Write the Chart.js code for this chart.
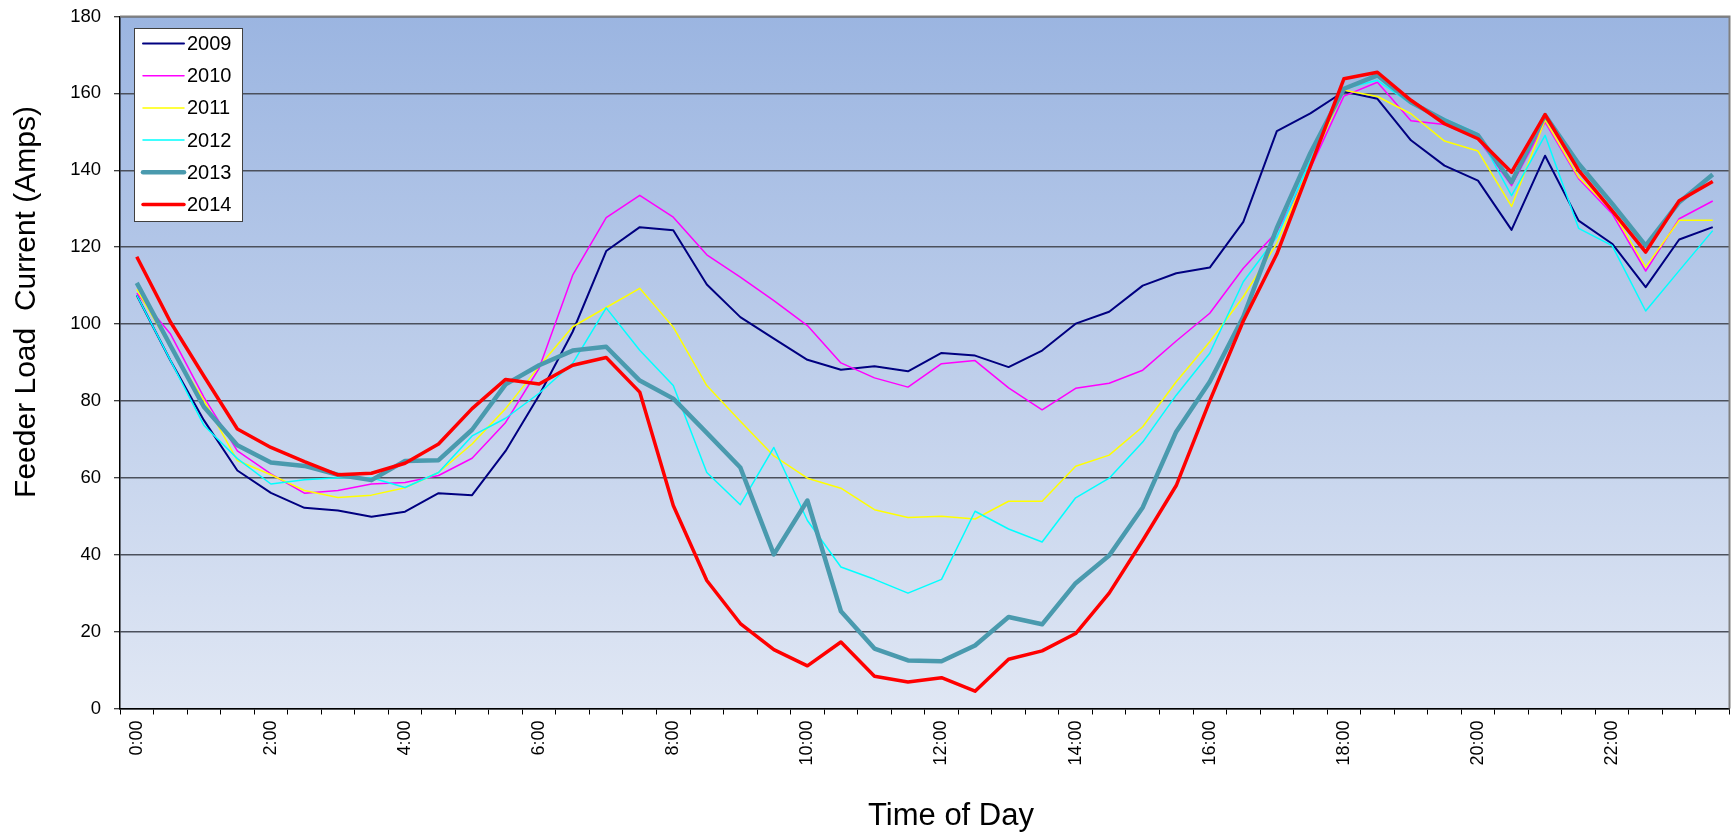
<!DOCTYPE html>
<html>
<head>
<meta charset="utf-8">
<title>Feeder Load Current</title>
<script src="https://cdn.jsdelivr.net/npm/chart.js@4.4.1/dist/chart.umd.min.js"></script>
<style>
  html, body { margin: 0; padding: 0; background: #fff; }
  #wrap { width: 1735px; height: 832px; }
</style>
</head>
<body>
<div id="wrap"><canvas id="feeder" width="1735" height="832"></canvas></div>
<script>
// half-hour categories
const timeLabels = [
  '0:00','0:30','1:00','1:30','2:00','2:30','3:00','3:30','4:00','4:30','5:00','5:30',
  '6:00','6:30','7:00','7:30','8:00','8:30','9:00','9:30','10:00','10:30','11:00','11:30',
  '12:00','12:30','13:00','13:30','14:00','14:30','15:00','15:30','16:00','16:30','17:00','17:30',
  '18:00','18:30','19:00','19:30','20:00','20:30','21:00','21:30','22:00','22:30','23:00','23:30'
];
// labels actually printed under the axis
const shownTicks = ['0:00','2:00','4:00','6:00','8:00','10:00','12:00','14:00','16:00','18:00','20:00','22:00'];
const yTicks = [0, 20, 40, 60, 80, 100, 120, 140, 160, 180];

const load2009 = [107.5, 90.6, 75.0, 61.9, 56.1, 52.2, 51.5, 49.9, 51.2, 56.0, 55.5, 67.0,
  81.5, 98.0, 119.0, 125.2, 124.4, 110.3, 101.8, 96.2, 90.7, 88.1, 89.0, 87.7,
  92.5, 91.8, 88.8, 93.1, 100.1, 103.2, 110.0, 113.2, 114.7, 126.6, 150.2, 154.8,
  160.5, 158.6, 147.8, 141.2, 137.3, 124.5, 143.8, 126.9, 120.9, 109.6, 122.0, 125.2];
const load2010 = [108.0, 97.5, 81.0, 67.0, 61.0, 56.0, 56.7, 58.4, 58.8, 60.6, 65.1, 74.4,
  88.5, 112.7, 127.7, 133.5, 127.8, 118.0, 112.2, 106.1, 99.6, 89.9, 86.0, 83.6,
  89.7, 90.5, 83.4, 77.7, 83.3, 84.6, 88.0, 95.6, 102.8, 114.5, 124.0, 140.5,
  159.3, 162.9, 152.9, 151.9, 148.2, 136.0, 152.5, 137.8, 128.7, 113.8, 127.4, 132.0];
const load2011 = [109.0, 94.0, 80.2, 64.5, 60.8, 56.7, 54.9, 55.5, 57.4, 61.4, 68.8, 78.0,
  89.0, 99.3, 104.3, 109.3, 99.2, 84.0, 74.7, 65.7, 59.9, 57.3, 51.7, 49.7,
  50.0, 49.3, 53.9, 53.9, 63.0, 65.9, 73.3, 85.0, 95.4, 107.1, 121.0, 141.5,
  160.8, 159.2, 154.7, 147.6, 145.0, 130.6, 153.1, 138.2, 129.5, 114.8, 127.0, 127.0];
const load2012 = [107.5, 90.6, 73.7, 65.0, 58.4, 59.5, 60.0, 60.0, 57.5, 61.4, 70.9, 75.5,
  82.0, 89.8, 104.2, 93.2, 84.0, 61.4, 53.0, 67.9, 48.9, 36.8, 33.6, 30.0,
  33.6, 51.3, 46.7, 43.3, 54.8, 59.9, 69.3, 81.5, 92.4, 111.0, 122.7, 142.5,
  161.2, 163.4, 157.3, 153.4, 149.5, 133.4, 149.1, 124.9, 120.4, 103.4, 113.9, 124.3];
const load2013 = [110.7, 94.5, 78.5, 68.5, 64.0, 63.1, 60.8, 59.4, 64.4, 64.6, 72.5, 84.3,
  89.3, 93.1, 94.1, 85.3, 80.6, 71.7, 62.7, 40.1, 54.1, 25.3, 15.6, 12.5,
  12.3, 16.4, 23.8, 21.9, 32.6, 39.8, 52.3, 72.0, 85.0, 101.9, 125.0, 144.5,
  161.2, 164.7, 157.7, 153.0, 149.1, 136.9, 154.3, 141.7, 131.3, 120.4, 131.7, 138.9];
const load2014 = [117.5, 100.6, 86.5, 72.7, 67.9, 64.2, 60.8, 61.2, 63.8, 68.8, 78.0, 85.6,
  84.4, 89.3, 91.3, 82.3, 52.8, 33.3, 22.1, 15.3, 11.1, 17.3, 8.4, 6.9,
  8.0, 4.5, 12.8, 15.0, 19.5, 30.0, 43.7, 58.0, 80.0, 100.8, 118.2, 141.0,
  163.8, 165.5, 158.2, 152.1, 148.2, 139.5, 154.5, 140.0, 129.5, 118.7, 132.1, 137.1];

const FONT = '"Liberation Sans", Arial, sans-serif';

// plot background gradient + gray frame
const plotBackground = {
  id: 'plotBackground',
  beforeDraw(chart) {
    const { ctx, chartArea: a } = chart;
    const g = ctx.createLinearGradient(0, a.top, 0, a.bottom);
    g.addColorStop(0, '#9bb5e1');
    g.addColorStop(1, '#e0e7f4');
    ctx.save();
    ctx.fillStyle = g;
    ctx.fillRect(a.left, a.top, a.right - a.left, a.bottom - a.top);
    ctx.restore();
  },
  afterDatasetsDraw(chart) {
    const { ctx, chartArea: a } = chart;
    ctx.save();
    ctx.strokeStyle = '#808080';
    ctx.lineWidth = 2;
    ctx.beginPath();
    ctx.moveTo(a.left, a.top);
    ctx.lineTo(a.right, a.top);
    ctx.lineTo(a.right, a.bottom);
    ctx.stroke();
    ctx.restore();
  }
};

// boxed legend inside the plot + axis titles
const boxLegend = {
  id: 'boxLegend',
  afterDraw(chart) {
    const ctx = chart.ctx;
    ctx.save();
    ctx.fillStyle = '#ffffff';
    ctx.fillRect(134, 28, 108, 193);
    ctx.strokeStyle = '#404040';
    ctx.lineWidth = 1;
    ctx.strokeRect(134.5, 28.5, 108, 193);
    ctx.font = '20px ' + FONT;
    ctx.textBaseline = 'middle';
    ctx.textAlign = 'left';
    chart.data.datasets.forEach((ds, k) => {
      const y = 43.5 + k * 32.2;
      ctx.strokeStyle = ds.borderColor;
      ctx.lineWidth = ds.borderWidth;
      ctx.lineCap = 'round';
      ctx.beginPath();
      ctx.moveTo(143, y);
      ctx.lineTo(184, y);
      ctx.stroke();
      ctx.fillStyle = '#000';
      ctx.fillText(ds.label, 187, y + 1);
    });

    ctx.fillStyle = '#000';
    ctx.textAlign = 'center';
    ctx.textBaseline = 'alphabetic';
    ctx.font = '31px ' + FONT;
    ctx.fillText('Time of Day', 951, 825);

    ctx.font = '30px ' + FONT;
    ctx.translate(35, 302);
    ctx.rotate(-Math.PI / 2);
    ctx.fillText('Feeder Load  Current (Amps)', 0, 0);
    ctx.restore();
  }
};

function series(label, data, color, width, order) {
  return {
    label: label,
    data: data,
    borderColor: color,
    backgroundColor: color,
    borderWidth: width,
    pointRadius: 0,
    pointHoverRadius: 0,
    tension: 0,
    fill: false,
    borderJoinStyle: 'round',
    order: order
  };
}

new Chart(document.getElementById('feeder').getContext('2d'), {
  type: 'line',
  data: {
    labels: timeLabels,
    datasets: [
      series('2009', load2009, '#000080', 2, 5),
      series('2010', load2010, '#ff00ff', 1.5, 4),
      series('2011', load2011, '#ffff00', 1.5, 3),
      series('2012', load2012, '#00ffff', 1.5, 2),
      series('2013', load2013, '#4a9aae', 4.5, 1),
      series('2014', load2014, '#ff0000', 3.5, 0)
    ]
  },
  options: {
    responsive: false,
    devicePixelRatio: 1,
    animation: false,
    layout: { padding: { left: 0, right: 5.5, top: 16.5, bottom: 0 } },
    plugins: {
      legend: { display: false },
      tooltip: { enabled: false }
    },
    scales: {
      x: {
        type: 'category',
        offset: true,
        afterFit(s) { s.height = 123.5; s.paddingLeft = 0; s.paddingRight = 0; },
        border: { display: true, color: '#000', width: 1.5 },
        grid: {
          display: true,
          offset: true,
          drawOnChartArea: false,
          drawTicks: true,
          tickLength: 6,
          tickColor: '#000',
          tickWidth: 1
        },
        ticks: {
          autoSkip: false,
          maxRotation: 90,
          minRotation: 90,
          padding: 6,
          color: '#000',
          font: { family: FONT, size: 18 },
          callback(val, idx) {
            const t = timeLabels[idx];
            return shownTicks.includes(t) ? t : '';
          }
        }
      },
      y: {
        min: 0,
        max: 180,
        afterFit(s) { s.width = 120; s.paddingTop = 0; s.paddingBottom = 0; },
        afterBuildTicks(s) { s.ticks = yTicks.map(v => ({ value: v })); },
        border: { display: true, color: '#000', width: 1.5 },
        grid: {
          color: '#4b505c',
          lineWidth: 1.5,
          drawTicks: true,
          tickLength: 6,
          tickColor: '#000',
          tickWidth: 1
        },
        ticks: {
          padding: 13,
          color: '#000',
          font: { family: FONT, size: 18.5 }
        }
      }
    }
  },
  plugins: [plotBackground, boxLegend]
});
</script>
</body>
</html>
